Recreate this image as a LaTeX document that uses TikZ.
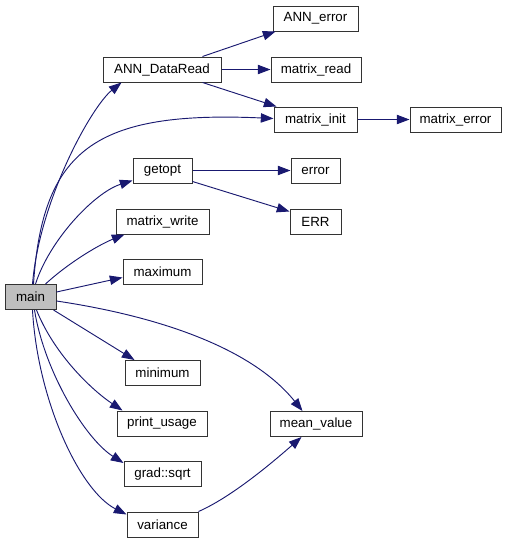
\documentclass[tikz,border=0pt]{standalone}
\usepackage{fontspec}
\setmainfont{Liberation Sans}
\usetikzlibrary{arrows.meta,calc}
\definecolor{edgeblue}{RGB}{25,25,112}
\definecolor{mainfill}{RGB}{191,191,191}
\begin{document}
\begin{tikzpicture}[x=0.75pt,y=-0.75pt,
  fnbox/.style={draw=black!80,line width=0.75pt,fill=white,inner sep=0pt,minimum height=18.75pt,font=\fontsize{10pt}{12pt}\selectfont},
  bw/.style={minimum width=#1*0.75pt},
  edge/.style={draw=edgeblue,line width=0.7pt,-{Triangle[length=9.5pt,width=7pt]}}]
\useasboundingbox (0,0) rectangle (507,544);
% nodes
\node[fnbox,bw=51,fill=mainfill] (main) at (30.5,297) {main};
\node[fnbox,bw=118] (adr) at (162,69.5) {ANN\_DataRead};
\node[fnbox,bw=59] (getopt) at (162.5,170.5) {getopt};
\node[fnbox,bw=93] (mwrite) at (162.5,221.5) {matrix\_write};
\node[fnbox,bw=79] (maximum) at (162.5,271.5) {maximum};
\node[fnbox,bw=75] (minimum) at (162.5,373) {minimum};
\node[fnbox,bw=90] (pusage) at (162,423.5) {print\_usage};
\node[fnbox,bw=77] (gsqrt) at (162.5,474) {grad::sqrt};
\node[fnbox,bw=71] (variance) at (162.5,524.5) {variance};
\node[fnbox,bw=85] (annerr) at (315.5,18.5) {ANN\_error};
\node[fnbox,bw=90] (mread) at (316,69.5) {matrix\_read};
\node[fnbox,bw=83] (minit) at (315.5,119.5) {matrix\_init};
\node[fnbox,bw=91] (merror) at (455.5,119.5) {matrix\_error};
\node[fnbox,bw=49] (error) at (315.5,170.5) {error};
\node[fnbox,bw=51] (err) at (315.5,221.5) {ERR};
\node[fnbox,bw=92] (mean) at (316,424) {mean\_value};
% edges from main
\draw[edge] ($(main.north west)+(28,0)$) .. controls +(7,-84) and +(-30,24) .. ($(adr.south west)+(19,0)$);
\draw[edge] ($(main.north west)+(29,0)$) .. controls +(9,-134) and +(-179,-8) .. ($(minit.west)+(0,-1)$);
\draw[edge] ($(main.north west)+(31,0)$) .. controls +(14,-44) and +(-38,12) .. ($(getopt.south west)+(0,-3)$);
\draw[edge] ($(main.north west)+(41,0)$) .. controls +(24,-22) and +(-25,10) .. ($(mwrite.south west)+(9,0)$);
\draw[edge] ($(main.north east)+(0,8)$) -- ($(maximum.north west)+(0,19)$);
\draw[edge] ($(main.south east)+(-3,0)$) -- ($(minimum.north west)+(10,0)$);
\draw[edge] ($(main.south west)+(32,0)$) .. controls +(18,45) and +(-30,-20) .. ($(pusage.north west)+(6,0)$);
\draw[edge] ($(main.south west)+(30,0)$) .. controls +(10,62) and +(-38,-24) .. ($(gsqrt.north west)+(0,2)$);
\draw[edge] ($(main.south west)+(28,0)$) .. controls +(5,90) and +(-47,-24) .. ($(variance.north west)+(0,3)$);
\draw[edge] ($(main.north east)+(0,17)$) .. controls +(94,14) and +(-53,-66) .. ($(mean.north west)+(33,0)$);
\draw[edge] (variance.north east) .. controls +(32,-14) and +(-32,28) .. ($(mean.south west)+(32,0)$);
% other edges
\draw[edge] ($(adr.north east)+(-19,0)$) -- ($(annerr.south west)+(3,0)$);
\draw[edge] (adr.east) -- (mread.west);
\draw[edge] ($(adr.south east)+(-19,0)$) -- ($(minit.north west)+(3,0)$);
\draw[edge] (minit.east) -- (merror.west);
\draw[edge] (getopt.east) -- (error.west);
\draw[edge] ($(getopt.south east)+(0,-2)$) -- ($(err.north west)+(0,3)$);
\end{tikzpicture}
\end{document}
